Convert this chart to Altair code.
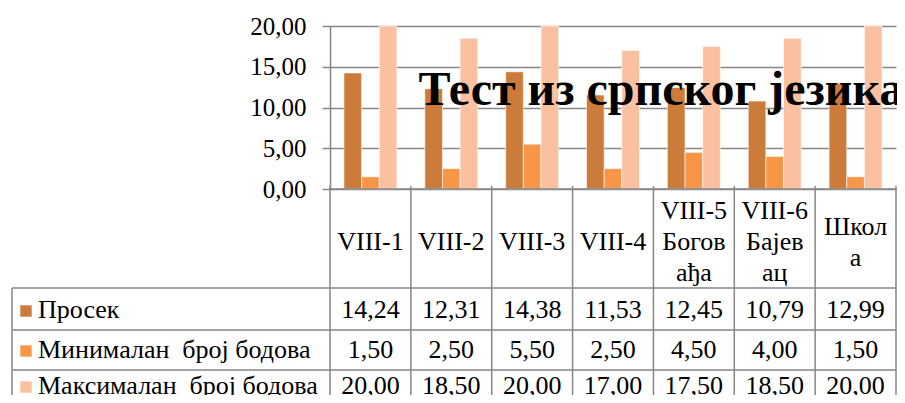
import altair as alt
import pandas as pd

TITLE = "Тест из српског језика"
CATEGORIES = ["VIII-1", "VIII-2", "VIII-3", "VIII-4",
              "VIII-5\nБогов\nађа", "VIII-6\nБајев\nац", "Школ\nа"]
SERIES = ["Просек", "Минималан \u00a0број бодова", "Максималан \u00a0број бодова"]
PROSEK = [14.24, 12.31, 14.38, 11.53, 12.45, 10.79, 12.99]
MINIMUM = [1.50, 2.50, 5.50, 2.50, 4.50, 4.00, 1.50]
MAXIMUM = [20.00, 18.50, 20.00, 17.00, 17.50, 18.50, 20.00]
COLORS = ["#CB7B3A", "#F79646", "#FAC0A0"]
Y_TICKS = [0, 5, 10, 15, 20]

FONT = "Liberation Serif"
GRID = "#868686"
W, H = 566, 163
ROW_Y = [284, 324, 360]
ROW_LINES = [262, 304, 344]
LEFT = -318
LINE_H = 31
TS = 26

rows = []
for s, vals in zip(SERIES, [PROSEK, MINIMUM, MAXIMUM]):
    for c, v in zip(CATEGORIES, vals):
        rows.append({"cat": c, "series": s, "value": v})
df = pd.DataFrame(rows)
one = pd.DataFrame({"k": [0]})
cats_df = pd.DataFrame({"cat": CATEGORIES})

xscale = alt.Scale(domain=CATEGORIES, paddingInner=0, paddingOuter=0)

bars = alt.Chart(df).mark_bar(stroke="white", strokeWidth=0.6).encode(
    x=alt.X("cat:N", sort=CATEGORIES, scale=xscale, axis=None),
    xOffset=alt.XOffset("series:N", sort=SERIES,
                        scale=alt.Scale(domain=SERIES, paddingInner=0, paddingOuter=0.79)),
    y=alt.Y("value:Q", scale=alt.Scale(domain=[0, 20], nice=False),
            axis=alt.Axis(values=Y_TICKS, title=None, grid=True, gridColor=GRID,
                          gridWidth=1.5, domainColor=GRID, domainWidth=1.5,
                          tickColor=GRID, tickSize=8, tickWidth=1.5,
                          labelFont=FONT, labelFontSize=25, labelColor="#000",
                          labelPadding=16,
                          labelExpr="replace(format(datum.value, '.2f'), '.', ',')")),
    color=alt.Color("series:N", sort=SERIES,
                    scale=alt.Scale(domain=SERIES, range=COLORS), legend=None),
)

layers = [bars]

# x axis line
layers.append(alt.Chart(one).mark_rule(color=GRID, strokeWidth=1.5).encode(
    x=alt.value(0), x2=alt.value(W), y=alt.value(H)))
# column dividers
layers.append(alt.Chart(cats_df).mark_rule(color=GRID, strokeWidth=1.5).encode(
    x=alt.X("cat:N", sort=CATEGORIES, bandPosition=0), y=alt.value(H - 3), y2=alt.value(400)))
layers.append(alt.Chart(one).mark_rule(color=GRID, strokeWidth=1.5).encode(
    x=alt.value(W), y=alt.value(H - 3), y2=alt.value(400)))
# left table border
layers.append(alt.Chart(one).mark_rule(color=GRID, strokeWidth=1.5).encode(
    x=alt.value(LEFT), y=alt.value(ROW_LINES[0]), y2=alt.value(400)))
# horizontal table lines
for ly in ROW_LINES:
    layers.append(alt.Chart(one).mark_rule(color=GRID, strokeWidth=1.5).encode(
        x=alt.value(LEFT), x2=alt.value(W), y=alt.value(ly)))

# header labels, vertically centred by number of lines
for k in (1, 2, 3):
    layers.append(alt.Chart(cats_df).transform_calculate(
        n="length(split(datum.cat, '\\n'))").transform_filter(
        f"datum.n == {k}").mark_text(
        font=FONT, fontSize=TS, lineBreak="\n", lineHeight=LINE_H, baseline="middle",
        color="#000").encode(
        x=alt.X("cat:N", sort=CATEGORIES),
        y=alt.value(216 - (k - 1) * LINE_H / 2), text="cat:N"))

# table rows
for i, s in enumerate(SERIES):
    layers.append(alt.Chart(df).transform_filter(alt.datum.series == s).transform_calculate(
        label="replace(format(datum.value, '.2f'), '.', ',')").mark_text(
        font=FONT, fontSize=TS, baseline="middle", color="#000").encode(
        x=alt.X("cat:N", sort=CATEGORIES), y=alt.value(ROW_Y[i]), text="label:N"))
    sdf = pd.DataFrame({"series": [s]})
    layers.append(alt.Chart(sdf).mark_text(
        font=FONT, fontSize=TS, baseline="middle", align="left", color="#000").encode(
        x=alt.value(-292), y=alt.value(ROW_Y[i]), text="series:N"))
    layers.append(alt.Chart(sdf).mark_square(size=130, opacity=1).encode(
        x=alt.value(-304), y=alt.value(ROW_Y[i] + 1),
        color=alt.Color("series:N", sort=SERIES,
                        scale=alt.Scale(domain=SERIES, range=COLORS), legend=None)))

# title
layers.append(alt.Chart(pd.DataFrame({"t": [TITLE]})).mark_text(
    font=FONT, fontSize=48, fontWeight="bold", align="center", baseline="alphabetic",
    color="#000").encode(x=alt.value(331), y=alt.value(79), text="t:N"))

chart = alt.layer(*layers).properties(
    width=W, height=H, autosize="none",
    padding={"left": 322, "top": 18, "right": 1, "bottom": 206},
).configure_view(stroke=None)

chart.save("out.html", embed_options={"renderer": "svg", "actions": False})
